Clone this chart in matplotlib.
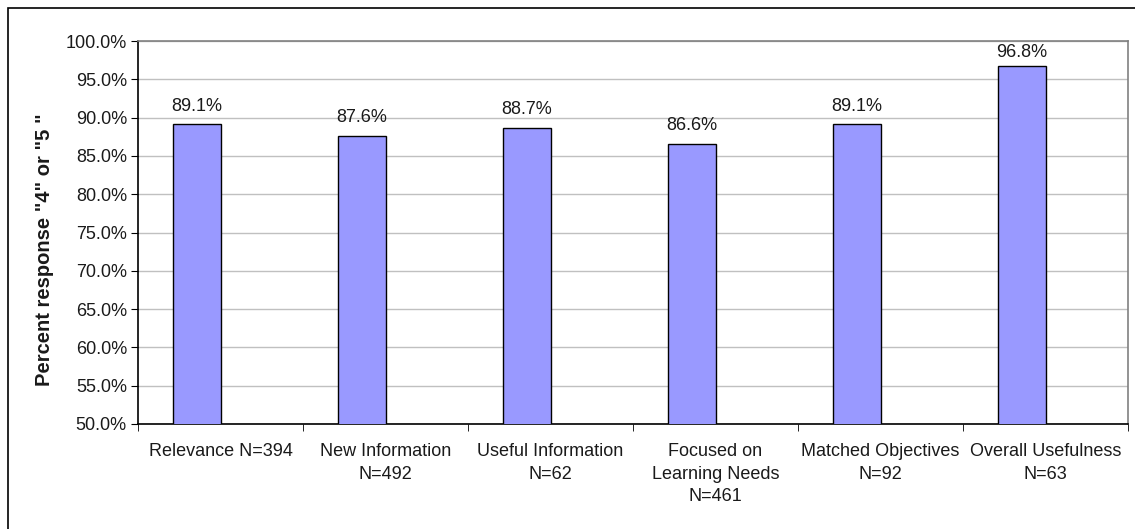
import numpy as np
import matplotlib.pyplot as plt
from matplotlib.patches import Rectangle

categories = ['Relevance N=394', 'New Information\nN=492', 'Useful Information\nN=62',
              'Focused on\nLearning Needs\nN=461', 'Matched Objectives\nN=92',
              'Overall Usefulness\nN=63']
values = [89.1, 87.6, 88.7, 86.6, 89.1, 96.8]
yticks = [50, 55, 60, 65, 70, 75, 80, 85, 90, 95, 100]

plt.rcParams['font.family'] = ['Liberation Sans', 'DejaVu Sans']
txt_color = '#1a1a1a'

W, H = 1135, 529
fig = plt.figure(figsize=(W / 100, H / 100), dpi=100)
ax = fig.add_axes([138 / W, 1 - 424 / H, (1128 - 138) / W, (424 - 41) / H])

# outer chart frame (runs off right and bottom edges)
fig.patches.append(Rectangle((8 / W, -0.1), 1.2, 1 - 8 / H + 0.1, transform=fig.transFigure,
                             fill=False, edgecolor='black', linewidth=1.2))

# excel-style 2 series slot, second one empty -> bar sits left of centre
x = np.arange(len(categories))
w = 1 / 3.5
bars = ax.bar(x - w / 2, values, width=w, color='#9999ff', edgecolor='black', linewidth=1, zorder=3)
for xi, v in zip(x - w / 2, values):
    # excel keeps the label inside the plot area
    ax.text(xi, min(v + 1.3, 97.4), f'{v:.1f}%', ha='center', va='bottom', fontsize=13, color=txt_color)

ax.set_xlim(-0.5, len(categories) - 0.5)
ax.set_ylim(50, 100)
ax.set_yticks(yticks)
ax.set_yticklabels([f'{t:.1f}%' for t in yticks], fontsize=13, color=txt_color)
ax.yaxis.grid(True, color='#c0c0c0', linewidth=1, zorder=0)

ax.set_xticks(x)
ax.set_xticklabels(categories, fontsize=13, linespacing=1.4, color=txt_color, va='top')
ax.set_xticks(np.arange(-0.5, len(categories)), minor=True)
ax.tick_params(axis='x', which='major', length=0, pad=14)
ax.tick_params(axis='x', which='minor', length=5, direction='out')
ax.tick_params(axis='y', length=5, direction='out', pad=3)

ax.spines['top'].set_color('#808080')
ax.spines['right'].set_color('#808080')
for s in ax.spines.values():
    s.set_linewidth(1.2)

fig.text(45 / W, 1 - 249.5 / H, 'Percent response "4" or "5 "', rotation=90,
         ha='center', va='center', fontsize=14.5, fontweight='bold', color=txt_color)

fig.savefig('out.png', dpi=100)
